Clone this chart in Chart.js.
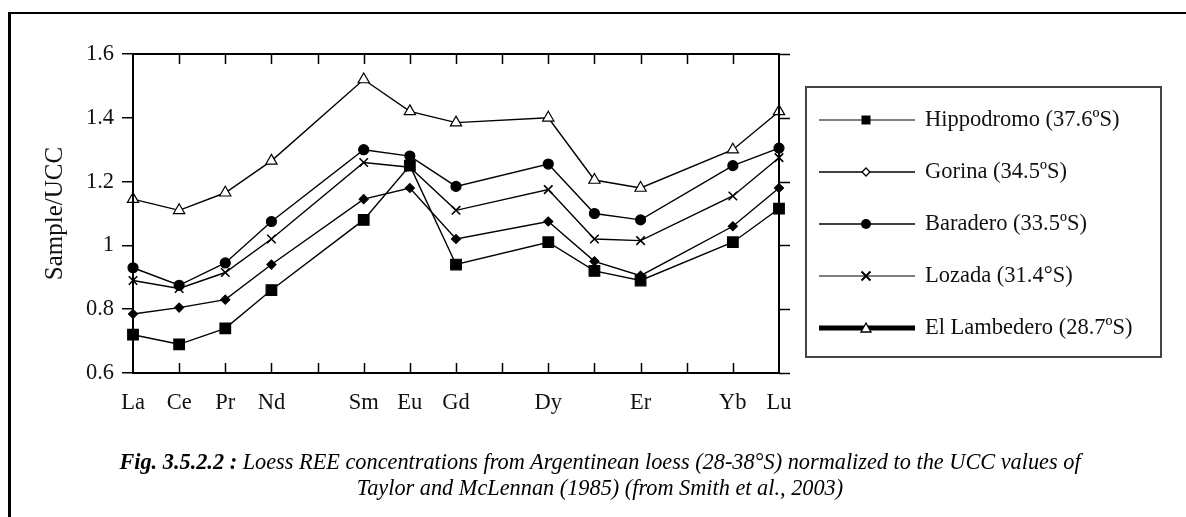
<!DOCTYPE html>
<html>
<head>
<meta charset="utf-8">
<script src="https://cdn.jsdelivr.net/npm/chart.js@4/dist/chart.umd.min.js"></script>
<style>
  html, body { margin: 0; padding: 0; background: #fff; }
  #wrap { position: relative; width: 1186px; height: 517px; overflow: hidden; }
  #frame { position: absolute; left: 8px; top: 12px; right: -5px; bottom: -5px;
           border-top: 2px solid #000; border-left: 3px solid #000; }
  #chart { position: absolute; left: 0; top: 0; }
  .cap { position: absolute; left: 0; width: 1200px; text-align: center;
         font-family: 'Liberation Serif', 'DejaVu Serif', serif; font-style: italic;
         font-size: 22.3px; color: #000; white-space: nowrap; }
  .cap b { font-weight: bold; }
</style>
</head>
<body>
<div id="wrap">
  <div id="frame"></div>
  <canvas id="chart" width="1186" height="517"></canvas>
  <div class="cap" style="top:449px"><b>Fig. 3.5.2.2 :</b> Loess REE concentrations from Argentinean loess (28-38°S) normalized to the UCC values of</div>
  <div class="cap" style="top:475px">Taylor and McLennan (1985) (from Smith et al., 2003)</div>
</div>
<script>
// Data (Sample/UCC), one slot per REE; null = not analysed
const elements = ['La', 'Ce', 'Pr', 'Nd', 'Pm', 'Sm', 'Eu', 'Gd', 'Tb', 'Dy', 'Ho', 'Er', 'Tm', 'Yb', 'Lu'];
const tickLabels = ['La', 'Ce', 'Pr', 'Nd', '', 'Sm', 'Eu', 'Gd', '', 'Dy', '', 'Er', '', 'Yb', 'Lu'];
const yTicks = [0.6, 0.8, 1, 1.2, 1.4, 1.6];

const hippodromo = [0.72, 0.69, 0.74, 0.86, null, 1.08, 1.25, 0.94, null, 1.01, 0.92, 0.89, null, 1.01, 1.115];
const gorina     = [0.785, 0.805, 0.83, 0.94, null, 1.145, 1.18, 1.02, null, 1.075, 0.95, 0.905, null, 1.06, 1.18];
const baradero   = [0.93, 0.875, 0.945, 1.075, null, 1.30, 1.28, 1.185, null, 1.255, 1.10, 1.08, null, 1.25, 1.305];
const lozada     = [0.89, 0.865, 0.915, 1.02, null, 1.26, 1.245, 1.11, null, 1.175, 1.02, 1.015, null, 1.155, 1.275];
const lambedero  = [1.145, 1.11, 1.165, 1.265, null, 1.52, 1.42, 1.385, null, 1.40, 1.205, 1.18, null, 1.30, 1.42];

const seriesNames = ['Hippodromo (37.6ºS)', 'Gorina (34.5ºS)', 'Baradero (33.5ºS)', 'Lozada (31.4°S)', 'El Lambedero (28.7ºS)'];

const FONT = "'Liberation Serif', 'DejaVu Serif', serif";

function series(label, data, style, radius, fill) {
    return {
        label: label,
        data: data,
        borderColor: '#000',
        borderWidth: 1.4,
        pointStyle: style,
        pointRadius: radius,
        pointBackgroundColor: fill,
        pointBorderColor: '#000',
        pointBorderWidth: style === 'crossRot' ? 1.6 : 1.2,
        spanGaps: true,
        tension: 0
    };
}

// Legend entries: line colour / width and marker look
const legendStyles = [
    { color: '#808080', width: 2, style: 'rect', r: 4.5, fill: '#000' },
    { color: '#000', width: 1.5, style: 'diamond', r: 4, fill: '#fff' },
    { color: '#000', width: 1.5, style: 'circle', r: 5, fill: '#000' },
    { color: '#808080', width: 2, style: 'cross', r: 4.5, fill: '#000' },
    { color: '#000', width: 5, style: 'triangle', r: 5, fill: '#fff' }
];

function marker(ctx, s, x, y) {
    ctx.save();
    ctx.fillStyle = s.fill;
    ctx.strokeStyle = '#000';
    ctx.lineWidth = 1.3;
    ctx.beginPath();
    if (s.style === 'rect') {
        ctx.rect(x - s.r, y - s.r, 2 * s.r, 2 * s.r);
        ctx.fill();
    } else if (s.style === 'circle') {
        ctx.arc(x, y, s.r, 0, Math.PI * 2);
        ctx.fill();
    } else if (s.style === 'diamond') {
        ctx.moveTo(x, y - s.r); ctx.lineTo(x + s.r, y); ctx.lineTo(x, y + s.r); ctx.lineTo(x - s.r, y);
        ctx.closePath(); ctx.fill(); ctx.stroke();
    } else if (s.style === 'triangle') {
        ctx.moveTo(x, y - s.r); ctx.lineTo(x + s.r, y + s.r * 0.8); ctx.lineTo(x - s.r, y + s.r * 0.8);
        ctx.closePath(); ctx.fill(); ctx.stroke();
    } else if (s.style === 'cross') {
        ctx.lineWidth = 2;
        ctx.moveTo(x - s.r, y - s.r); ctx.lineTo(x + s.r, y + s.r);
        ctx.moveTo(x + s.r, y - s.r); ctx.lineTo(x - s.r, y + s.r);
        ctx.stroke();
    }
    ctx.restore();
}

// Frame, inward x ticks, right-hand y ticks and the boxed legend
const decorations = {
    id: 'decorations',
    afterDraw(chart) {
        const ctx = chart.ctx;
        const a = chart.chartArea;
        const xs = chart.scales.x;
        const ys = chart.scales.y;
        ctx.save();
        ctx.strokeStyle = '#000';
        ctx.lineWidth = 2;
        ctx.strokeRect(a.left, a.top, a.right - a.left, a.bottom - a.top);

        ctx.lineWidth = 1.5;
        ctx.beginPath();
        for (let i = 1; i < elements.length - 1; i++) {
            const px = Math.round(xs.getPixelForTick(i)) + 0.5;
            ctx.moveTo(px, a.bottom); ctx.lineTo(px, a.bottom - 10);
            ctx.moveTo(px, a.top); ctx.lineTo(px, a.top + 10);
        }
        yTicks.forEach(v => {
            const py = Math.round(ys.getPixelForValue(v)) + 0.5;
            ctx.moveTo(a.right, py); ctx.lineTo(a.right + 11, py);
        });
        ctx.stroke();

        // legend
        ctx.strokeStyle = '#444';
        ctx.lineWidth = 2;
        ctx.strokeRect(806, 87, 355, 270);
        ctx.font = '22.5px ' + FONT;
        ctx.fillStyle = '#111';
        ctx.textBaseline = 'middle';
        seriesNames.forEach((name, i) => {
            const y = 120 + i * 52;
            const s = legendStyles[i];
            ctx.strokeStyle = s.color;
            ctx.lineWidth = s.width;
            ctx.beginPath();
            ctx.moveTo(819, y); ctx.lineTo(915, y);
            ctx.stroke();
            marker(ctx, s, 866, y);
            ctx.fillText(name, 925, y);
        });
        ctx.restore();
    }
};

new Chart(document.getElementById('chart'), {
    type: 'line',
    data: {
        labels: tickLabels,
        datasets: [
            series(seriesNames[0], hippodromo, 'rect', 7.5, '#000'),
            series(seriesNames[1], gorina, 'rectRot', 4.5, '#000'),
            series(seriesNames[2], baradero, 'circle', 5, '#000'),
            series(seriesNames[3], lozada, 'crossRot', 6, '#000'),
            series(seriesNames[4], lambedero, 'triangle', 6.5, '#fff')
        ]
    },
    options: {
        responsive: false,
        animation: false,
        events: [],
        layout: { padding: { left: 0, right: 407, top: 54, bottom: 94 } },
        plugins: {
            legend: { display: false },
            tooltip: { enabled: false }
        },
        scales: {
            x: {
                type: 'category',
                offset: false,
                grid: { display: false, drawTicks: false },
                border: { display: false },
                ticks: {
                    autoSkip: false, maxRotation: 0, padding: 17,
                    color: '#111', font: { family: FONT, size: 22.5 }
                },
                afterFit: s => { s.height = 50; }
            },
            y: {
                min: 0.6,
                max: 1.6,
                afterBuildTicks: s => { s.ticks = yTicks.map(v => ({ value: v })); },
                grid: { drawOnChartArea: false, tickLength: 11, color: '#000', lineWidth: 1.5 },
                border: { display: false },
                ticks: {
                    padding: 8, color: '#111', font: { family: FONT, size: 22.5 },
                    callback: v => String(+v.toFixed(1))
                },
                title: {
                    display: true, text: 'Sample/UCC', color: '#111',
                    font: { family: FONT, size: 25 }, padding: { top: 40, bottom: 0 }
                },
                afterFit: s => { s.width = 133; }
            }
        }
    },
    plugins: [decorations]
});
</script>
</body>
</html>
